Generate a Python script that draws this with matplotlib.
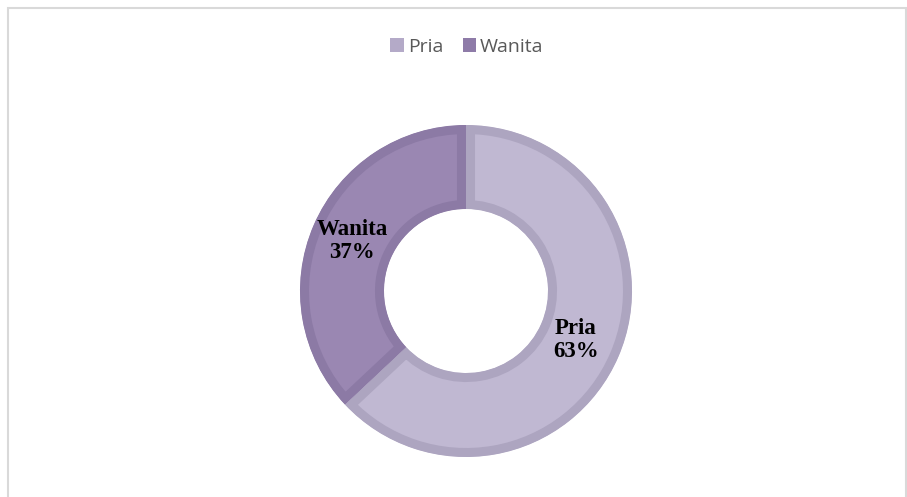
import matplotlib
matplotlib.use("Agg")
import matplotlib.pyplot as plt
from matplotlib.patches import Rectangle

categories = ["Pria", "Wanita"]
values = [63, 37]
fill_colors = ["#C0B8D2", "#9A87B2"]
edge_colors = ["#ADA5C0", "#8C7AA5"]
legend_colors = ["#B4AAC8", "#8E7BA8"]

W, H = 907, 497
fig = plt.figure(figsize=(W / 100, H / 100), dpi=100)
ax = fig.add_axes([0, 0, 1, 1])
ax.set_xlim(0, W)
ax.set_ylim(0, H)
ax.set_aspect("equal")
ax.axis("off")

# chart border
ax.add_patch(Rectangle((7.5, -5), 898.5, H - 7.5 + 5, fill=False,
                       edgecolor="#D9D9D9", linewidth=1.5))

cx, cy = 466, H - 291
R, r_in = 166, 82
wedges, _ = ax.pie(values, colors=fill_colors, startangle=90, counterclock=False,
                   center=(cx, cy), radius=R, frame=True,
                   wedgeprops=dict(width=R - r_in))
ax.set_xlim(0, W)
ax.set_ylim(0, H)
ax.axis("off")
for w, ec in zip(wedges, edge_colors):
    w.set_edgecolor(ec)
    w.set_linewidth(13)
    w.set_clip_on(True)
    w.set_clip_path(w)

# data labels
label_pos = [(576, H - 340), (352, H - 241)]
for (x, y), cat, v in zip(label_pos, categories, values):
    ax.text(x, y, f"{cat}\n{v}%", ha="center", va="center",
            fontfamily="Liberation Serif", fontweight="bold", fontsize=16.5,
            color="#000000", linespacing=1.15)

# legend
handles = [Rectangle((0, 0), 1, 1, facecolor=c, edgecolor="none") for c in legend_colors]
leg = fig.legend(handles, categories, loc="center", bbox_to_anchor=(467 / W, 1 - 47 / H),
                 ncol=2, frameon=False, prop=dict(family="Open Sans", size=14),
                 handlelength=0.7, handleheight=0.7, handletextpad=0.2, columnspacing=1.0)
for t in leg.get_texts():
    t.set_color("#595959")

fig.savefig("out.png", dpi=100)
